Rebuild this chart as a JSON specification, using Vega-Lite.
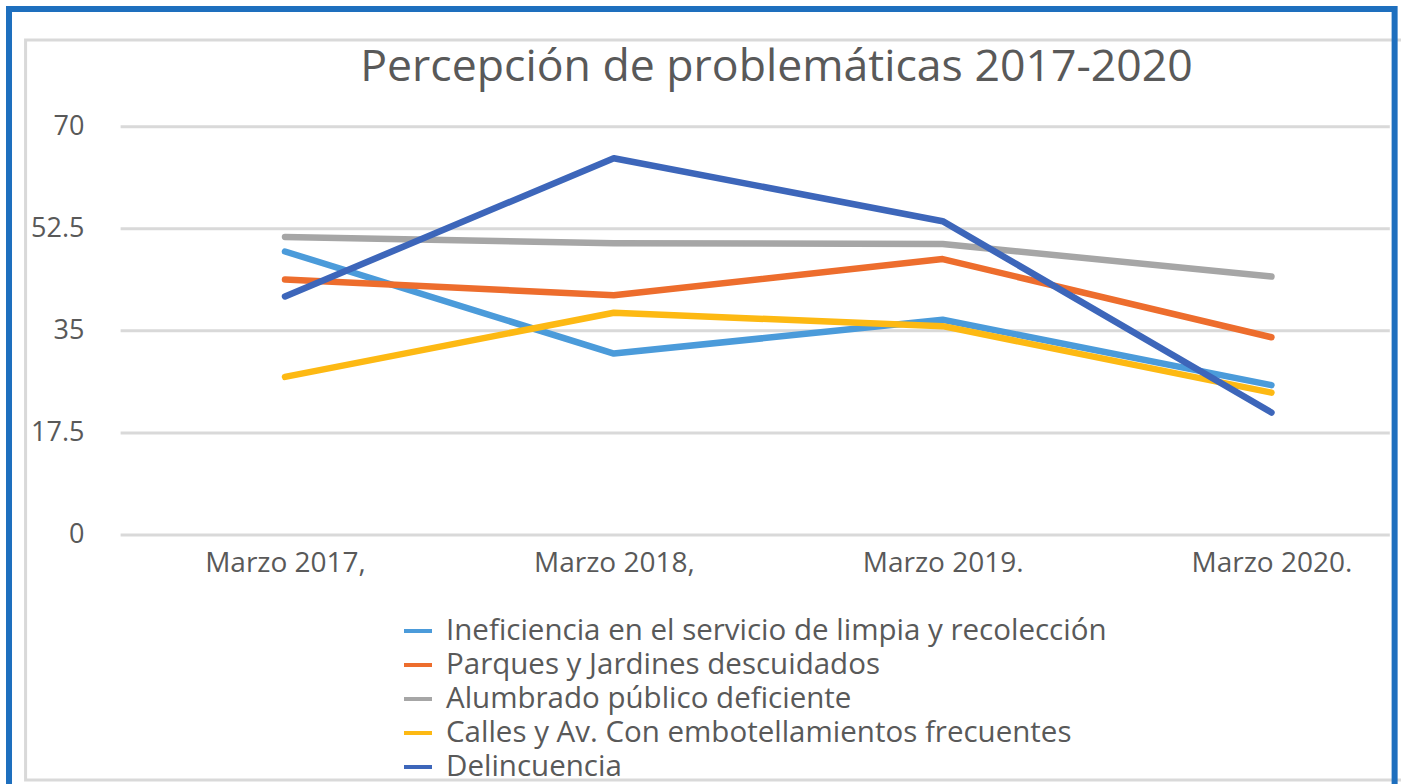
{
  "$schema": "https://vega.github.io/schema/vega-lite/v6.json",
  "width": 1401,
  "height": 784,
  "autosize": {"type": "none"},
  "padding": 0,
  "background": "white",
  "config": {
    "view": {"stroke": null},
    "font": "Open Sans"
  },
  "title": {
    "text": "Percepción de problemáticas 2017-2020",
    "font": "Open Sans",
    "fontSize": 44.6,
    "fontWeight": "normal",
    "color": "#595959",
    "anchor": "middle",
    "frame": "group",
    "baseline": "alphabetic",
    "offset": -126,
    "dx": 76
  },
  "datasets": {
    "series": [
      {"serie": "Ineficiencia en el servicio de limpia y recolección", "periodo": "Marzo 2017,", "idx": 0, "valor": 48.6},
      {"serie": "Ineficiencia en el servicio de limpia y recolección", "periodo": "Marzo 2018,", "idx": 1, "valor": 31.1},
      {"serie": "Ineficiencia en el servicio de limpia y recolección", "periodo": "Marzo 2019.", "idx": 2, "valor": 36.9},
      {"serie": "Ineficiencia en el servicio de limpia y recolección", "periodo": "Marzo 2020.", "idx": 3, "valor": 25.7},
      {"serie": "Parques y Jardines descuidados", "periodo": "Marzo 2017,", "idx": 0, "valor": 43.8},
      {"serie": "Parques y Jardines descuidados", "periodo": "Marzo 2018,", "idx": 1, "valor": 41.1},
      {"serie": "Parques y Jardines descuidados", "periodo": "Marzo 2019.", "idx": 2, "valor": 47.3},
      {"serie": "Parques y Jardines descuidados", "periodo": "Marzo 2020.", "idx": 3, "valor": 33.9},
      {"serie": "Alumbrado público deficiente", "periodo": "Marzo 2017,", "idx": 0, "valor": 51.1},
      {"serie": "Alumbrado público deficiente", "periodo": "Marzo 2018,", "idx": 1, "valor": 50.0},
      {"serie": "Alumbrado público deficiente", "periodo": "Marzo 2019.", "idx": 2, "valor": 49.9},
      {"serie": "Alumbrado público deficiente", "periodo": "Marzo 2020.", "idx": 3, "valor": 44.3},
      {"serie": "Calles y Av. Con embotellamientos frecuentes", "periodo": "Marzo 2017,", "idx": 0, "valor": 27.1},
      {"serie": "Calles y Av. Con embotellamientos frecuentes", "periodo": "Marzo 2018,", "idx": 1, "valor": 38.1},
      {"serie": "Calles y Av. Con embotellamientos frecuentes", "periodo": "Marzo 2019.", "idx": 2, "valor": 35.8},
      {"serie": "Calles y Av. Con embotellamientos frecuentes", "periodo": "Marzo 2020.", "idx": 3, "valor": 24.4},
      {"serie": "Delincuencia", "periodo": "Marzo 2017,", "idx": 0, "valor": 40.9},
      {"serie": "Delincuencia", "periodo": "Marzo 2018,", "idx": 1, "valor": 64.6},
      {"serie": "Delincuencia", "periodo": "Marzo 2019.", "idx": 2, "valor": 53.8},
      {"serie": "Delincuencia", "periodo": "Marzo 2020.", "idx": 3, "valor": 21.0}
    ],
    "grid": [
      {"nivel": 0}, {"nivel": 17.5}, {"nivel": 35}, {"nivel": 52.5}, {"nivel": 70}
    ]
  },
  "layer": [
    {
      "data": {"values": [{}]},
      "mark": {"type": "rect", "fill": null, "stroke": "#D9D9D9", "strokeWidth": 3, "clip": true},
      "encoding": {
        "x": {"datum": -0.789, "type": "quantitative"},
        "x2": {"datum": 3.5},
        "y": {"datum": 84.86, "type": "quantitative"},
        "y2": {"datum": -42.0}
      }
    },
    {
      "data": {"name": "grid"},
      "mark": {"type": "rule", "stroke": "#D9D9D9", "strokeWidth": 3},
      "encoding": {
        "x": {"datum": -0.5, "type": "quantitative"},
        "x2": {"datum": 3.36},
        "y": {"field": "nivel", "type": "quantitative"}
      }
    },
    {
      "data": {"name": "series"},
      "mark": {"type": "line", "strokeWidth": 6.5, "strokeCap": "round", "strokeJoin": "round"},
      "encoding": {
        "x": {
          "field": "idx",
          "type": "quantitative",
          "scale": {"domain": [-0.8668, 3.394], "nice": false, "zero": false},
          "axis": {
            "orient": "bottom",
            "offset": -249,
            "values": [0, 1, 2, 3],
            "labelExpr": "['Marzo 2017,','Marzo 2018,','Marzo 2019.','Marzo 2020.'][datum.value]",
            "title": null,
            "domain": false,
            "ticks": false,
            "tickSize": 0,
            "grid": false,
            "labelFont": "Open Sans",
            "labelFontSize": 28,
            "labelColor": "#595959",
            "labelBaseline": "alphabetic",
            "labelPadding": 36,
            "labelOverlap": false,
            "labelFlush": false
          }
        },
        "y": {
          "field": "valor",
          "type": "quantitative",
          "scale": {"domain": [-42.69, 91.72], "nice": false, "zero": false},
          "axis": {
            "orient": "left",
            "offset": -84,
            "values": [0, 17.5, 35, 52.5, 70],
            "labelExpr": "format(datum.value, '.1~f')",
            "title": null,
            "domain": false,
            "ticks": false,
            "tickSize": 0,
            "grid": false,
            "labelFont": "Open Sans",
            "labelFontSize": 27,
            "labelColor": "#595959",
            "labelPadding": 0,
            "labelOverlap": false
          }
        },
        "color": {
          "field": "serie",
          "type": "nominal",
          "sort": null,
          "scale": {
            "domain": [
              "Ineficiencia en el servicio de limpia y recolección",
              "Parques y Jardines descuidados",
              "Alumbrado público deficiente",
              "Calles y Av. Con embotellamientos frecuentes",
              "Delincuencia"
            ],
            "range": ["#4B9BDA", "#ED6D2D", "#A6A6A6", "#FDB913", "#3D66BA"]
          },
          "legend": {
            "orient": "none",
            "legendX": 402,
            "legendY": 615,
            "title": null,
            "padding": 0,
            "symbolType": "stroke",
            "symbolSize": 784,
            "symbolStrokeWidth": 4,
            "labelFont": "Open Sans",
            "labelFontSize": 29.5,
            "labelColor": "#595959",
            "labelOffset": 12,
            "labelLimit": 1000,
            "rowPadding": 3.0
          }
        }
      }
    },
    {
      "data": {"values": [{}]},
      "mark": {"type": "rect", "fill": null, "stroke": "#1E6FBE", "strokeWidth": 6, "clip": true},
      "encoding": {
        "x": {"datum": -0.8394, "type": "quantitative"},
        "x2": {"datum": 3.3746},
        "y": {"datum": 90.18, "type": "quantitative"},
        "y2": {"datum": -50}
      }
    }
  ]
}
